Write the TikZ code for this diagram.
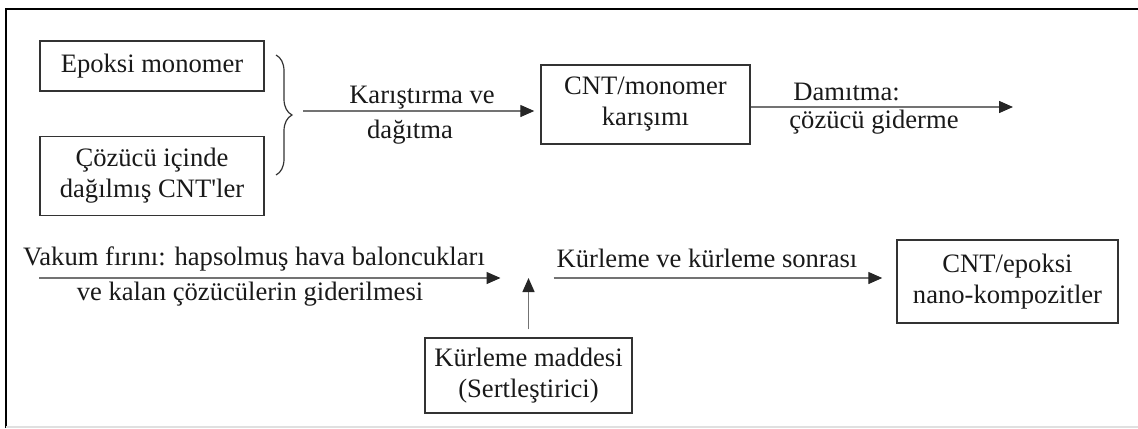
\documentclass[tikz,border=0pt]{standalone}
\usepackage{fontspec}
\setmainfont{Liberation Serif}
\usetikzlibrary{positioning,arrows.meta,decorations.pathreplacing}
\tikzset{line/.style={draw=black!55, line width=0.7pt, -{Triangle[length=7pt,width=6pt,color=black!85]}}}

\begin{document}
\begin{tikzpicture}[x=0.5pt, y=-0.5pt, font=\fontsize{13.3}{15.5}\selectfont, main/.style = {draw=black!80, line width=0.75pt, align=center, inner sep=0pt, text=black!90}, lbl/.style = {anchor=base, inner sep=0pt, text=black!90}]
\useasboundingbox (0,0) rectangle (1138,428);
% frame
\draw[line width=1.2pt] (6,428) -- (6,9) -- (1138,9);
\draw[black!12, line width=0.7pt] (6,427) -- (1138,427);
% boxes
\node[main, minimum width=112pt, minimum height=25pt] (1) at (152,66) {Epoksi monomer};
\node[main, minimum width=112pt, minimum height=39.5pt] (2) [below=22pt of 1] {Çözücü içinde\\dağılmış CNT\textquotesingle ler};
\node[main, minimum width=104.5pt, minimum height=39.5pt] (3) at (645.5,104.5) {CNT/monomer\\karışımı};
\node[main, minimum width=103.5pt, minimum height=37.5pt] (4) at (528.5,375.5) {Kürleme maddesi\\(Sertleştirici)};
\node[main, minimum width=110.5pt, minimum height=41.5pt] (5) at (1007.5,281.5) {CNT/epoksi\\nano-kompozitler};
% brace and free ends
\draw[black!80, line width=0.6pt, decorate, decoration={brace, amplitude=8pt}] (276,55) -- (276,175);
\coordinate (bt) at (303,111);
\coordinate (de) at (1013,107);
\coordinate (vs) at (39,278);
\coordinate (m) at (528.5,278);
% arrows
\draw[line, shorten >=3pt] (bt) -- (bt -| 3.west);
\draw[line] (3.east |- de) -- (de);
\draw[line, shorten >=14pt] (vs) -- (m);
\draw[line, shorten <=4pt] (4.north) -- (m);
\draw[line, shorten <=12.5pt, shorten >=7pt] (m) -- (m -| 5.west);
% labels
\node[lbl] (a) at (422,103) {Karıştırma ve};
\node[lbl] (b) at (410,138) {dağıtma};
\node[lbl, anchor=base west] (c) at (793,100) {Damıtma:};
\node[lbl, anchor=base west] (d) at (789,128) {çözücü giderme};
\node[lbl] (e) at (254,265) {Vakum fırını: hapsolmuş hava baloncukları};
\node[lbl] (f) at (250,300) {ve kalan çözücülerin giderilmesi};
\node[lbl] (g) at (707,267) {Kürleme ve kürleme sonrası};
\end{tikzpicture}
\end{document}
